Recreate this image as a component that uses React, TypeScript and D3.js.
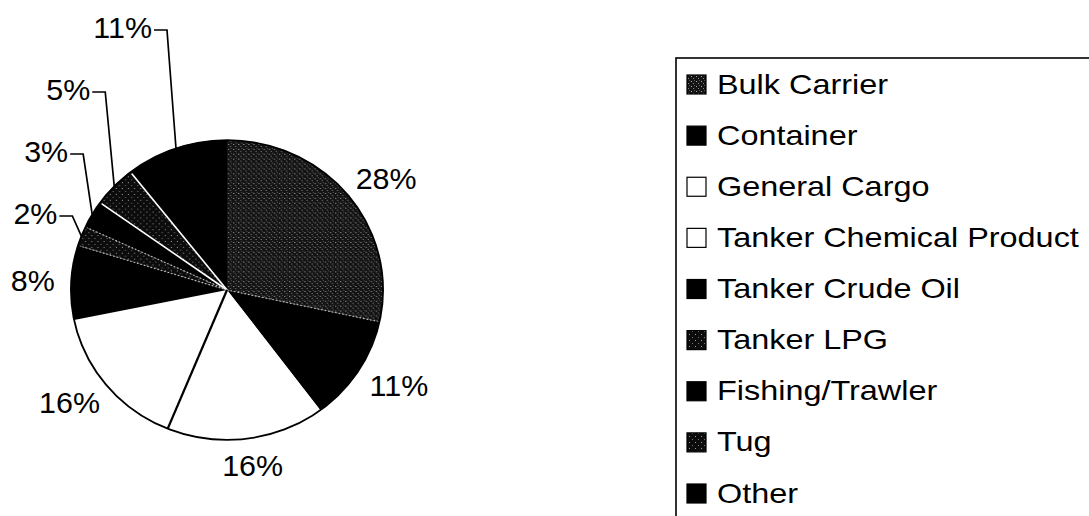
import React from "react";
import * as d3 from "d3";

const categories = [
  "Bulk Carrier",
  "Container",
  "General Cargo",
  "Tanker Chemical Product",
  "Tanker Crude Oil",
  "Tanker LPG",
  "Fishing/Trawler",
  "Tug",
  "Other",
];
const shares = [28.4, 11.4, 16.4, 15.6, 8.0, 2.1, 3.0, 4.5, 10.6];
const fills = [
  "url(#speckleA)",
  "#000",
  "#fff",
  "#fff",
  "#000",
  "url(#speckleB)",
  "#000",
  "url(#speckleB)",
  "#000",
];

const W = 1089;
const H = 516;
const cx = 227;
const cy = 290;
const R = 153;
const SX = 1.02;
const SY = 0.98;
const FONT = "Arial, 'Liberation Sans', sans-serif";

export default function App() {
  const data = categories.map((c, i) => ({ name: c, value: shares[i], fill: fills[i] }));
  const pie = d3.pie<any>().sort(null).value((d: any) => d.value);
  const arcs = pie(data);
  const arc = d3.arc<any>().innerRadius(0).outerRadius(R);
  const pt = (a: number, r: number) => [Math.sin(a) * r * SX, -Math.cos(a) * r * SY];

  const legendY = d3.scalePoint<string>().domain(categories).range([84, 493]);

  const whiteLines = [arcs[7].startAngle, arcs[8].startAngle];
  const dottedLines = [arcs[5].startAngle, arcs[6].startAngle, arcs[1].startAngle];
  const blackLines = [arcs[3].startAngle];

  const seg = (a: number, r: number) => {
    const [x, y] = [Math.sin(a) * r, -Math.cos(a) * r];
    return [x, y];
  };

  return (
    <svg width={W} height={H} style={{ position: "absolute", left: 0, top: 0, background: "#fff" }}>
      <defs>
        <pattern id="speckleA" width="5" height="5" patternUnits="userSpaceOnUse">
          <rect width="5" height="5" fill="#141414" />
          <rect x="1" y="1" width="1" height="1" fill="#aaa" />
          <rect x="3" y="3" width="1" height="1" fill="#888" />
          <rect x="4" y="0" width="1" height="1" fill="#555" />
        </pattern>
        <pattern id="speckleB" width="6" height="6" patternUnits="userSpaceOnUse">
          <rect width="6" height="6" fill="#0c0c0c" />
          <rect x="2" y="1" width="1" height="1" fill="#777" />
          <rect x="5" y="4" width="1" height="1" fill="#999" />
        </pattern>
      </defs>
      <g transform={`translate(${cx},${cy})`}>
        <g transform={`scale(${SX},${SY})`}>
          {arcs.map((a, i) => (
            <path key={i} d={arc(a) as string} fill={a.data.fill} stroke="none" />
          ))}
          {whiteLines.map((a, i) => {
            const [x, y] = seg(a, R - 2);
            return <line key={"w" + i} x1={0} y1={0} x2={x} y2={y} stroke="#fff" strokeWidth={1.6} />;
          })}
          {dottedLines.map((a, i) => {
            const [x, y] = seg(a, R - 2);
            return (
              <line key={"d" + i} x1={0} y1={0} x2={x} y2={y} stroke="#bbb" strokeWidth={1.2} strokeDasharray="1.5 2" />
            );
          })}
          {blackLines.map((a, i) => {
            const [x, y] = seg(a, R);
            return <line key={"b" + i} x1={0} y1={0} x2={x} y2={y} stroke="#000" strokeWidth={2.2} />;
          })}
          <circle r={R} fill="none" stroke="#000" strokeWidth={1.8} />
        </g>
        {arcs.map((a, i) => {
          const mid = (a.startAngle + a.endAngle) / 2;
          const label = `${Math.round(a.data.value)}%`;
          if (i < 5) {
            const [x0, y0] = pt(mid, R + 18);
            const hw = label.length * 10;
            const x = x0 + hw * Math.sin(mid);
            const y = y0 - 10 * Math.cos(mid);
            return (
              <text
                key={"l" + i}
                transform={`translate(${x},${y + 10}) scale(1.05,1)`}
                textAnchor="middle"
                fontFamily={FONT}
                fontSize={29}
                fill="#000"
              >
                {label}
              </text>
            );
          }
          const k = i - 5;
          const [ax, ay] = pt(mid, R);
          const ly = -76 - 62 * k;
          const ex = ax - 9;
          const hx = ex - 13;
          return (
            <g key={"l" + i}>
              <polyline
                points={`${hx},${ly + 2} ${ex},${ly + 2} ${ax},${ay}`}
                fill="none"
                stroke="#000"
                strokeWidth={1.7}
              />
              <text
                transform={`translate(${hx - 2},${ly + 10}) scale(1.05,1)`}
                textAnchor="end"
                fontFamily={FONT}
                fontSize={29}
                fill="#000"
              >
                {label}
              </text>
            </g>
          );
        })}
      </g>
      <rect x={676} y={58} width={600} height={600} fill="none" stroke="#000" strokeWidth={1.6} />
      {data.map((d, i) => {
        const y = legendY(d.name) as number;
        return (
          <g key={"g" + i}>
            <rect x={687} y={y - 9} width={19} height={19} fill={d.fill} stroke="#000" strokeWidth={1.2} />
            <text
              transform={`translate(717,${y + 9.5}) scale(1.2,1)`}
              fontFamily={FONT}
              fontSize={27}
              fill="#000"
            >
              {d.name}
            </text>
          </g>
        );
      })}
    </svg>
  );
}
